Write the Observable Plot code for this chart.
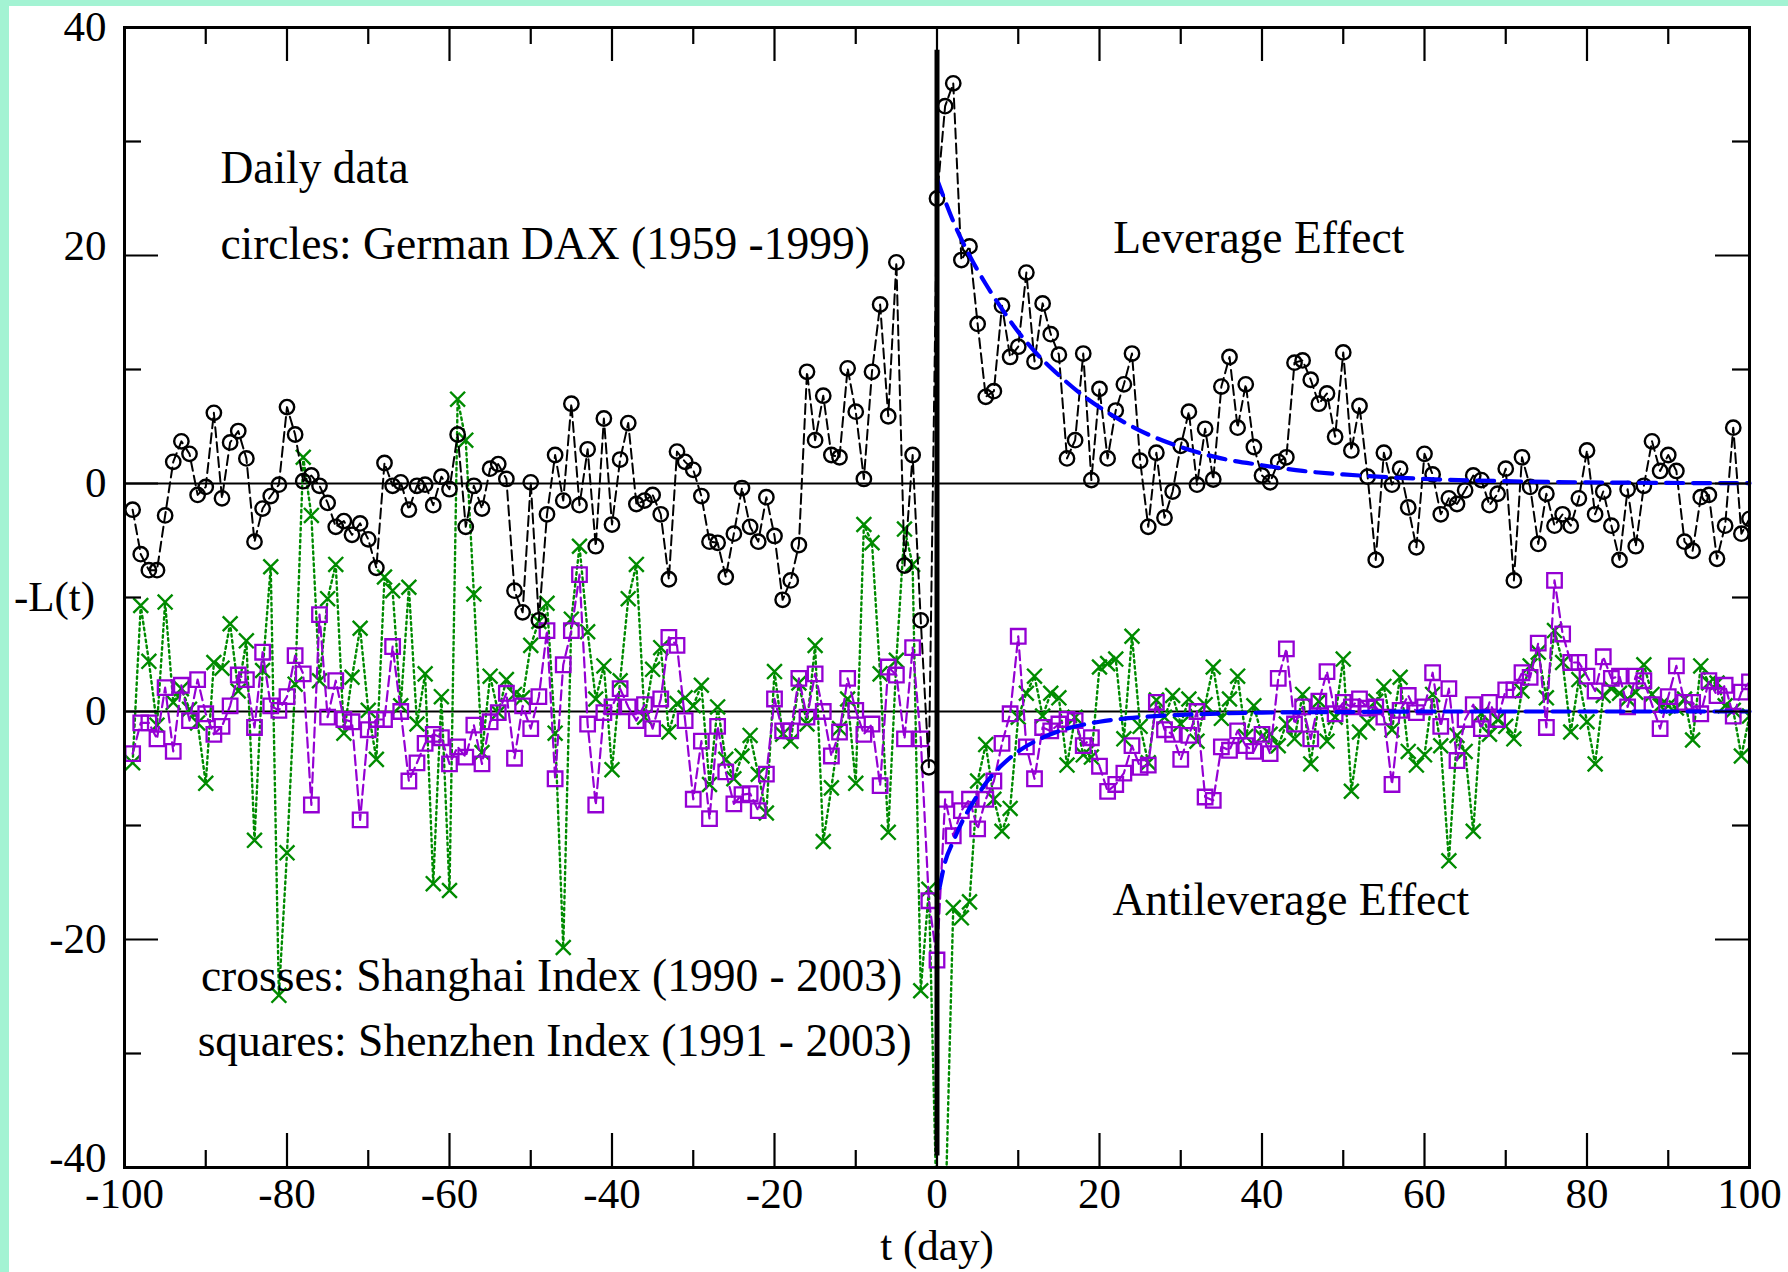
<!DOCTYPE html>
<html><head><meta charset="utf-8">
<script src="https://cdn.jsdelivr.net/npm/d3@7"></script>
<script src="https://cdn.jsdelivr.net/npm/@observablehq/plot@0.6"></script>
<style>
html,body{margin:0;padding:0;background:#fff;}
#wrap{position:relative;width:1788px;height:1272px;overflow:hidden;}
.mint{position:absolute;background:#a3f3d3;}
</style></head><body>
<div id="wrap"></div>
<script>
// ---- data (t = -99 ... 100, one value per day) ----
const days = d3.range(-99, 101);
const daxValues = [
-2.3,-6.2,-7.6,-7.6,-2.8,1.9,3.7,2.6,-1.0,-0.3,
6.2,-1.3,3.6,4.6,2.2,-5.1,-2.2,-1.1,-0.1,6.7,
4.3,0.2,0.7,-0.2,-1.7,-3.8,-3.3,-4.5,-3.5,-4.9,
-7.4,1.8,-0.2,0.1,-2.3,-0.2,-0.1,-1.9,0.6,-0.5,
4.3,-3.8,-0.2,-2.2,1.3,1.7,0.4,-9.4,-11.3,0.1,
-12.0,-2.7,2.5,-1.5,7.0,-1.9,3.0,-5.5,5.7,-3.6,
2.1,5.3,-1.8,-1.5,-1.0,-2.7,-8.4,2.8,1.9,1.2,
-1.1,-5.1,-5.2,-8.2,-4.4,-0.4,-3.8,-5.1,-1.2,-4.6,
-10.2,-8.5,-5.4,9.8,3.8,7.7,2.5,2.3,10.1,6.3,
0.4,9.8,15.7,5.9,19.4,-7.2,2.5,-12.0,-24.9,25.0,
33.1,35.1,19.6,20.8,14.0,7.6,8.1,15.6,11.1,12.0,
18.5,10.7,15.8,13.1,11.3,2.2,3.8,11.4,0.3,8.3,
2.2,6.4,8.7,11.4,2.0,-3.8,2.7,-3.0,-0.7,3.3,
6.3,-0.1,4.8,0.35,8.5,11.1,4.9,8.7,3.2,0.7,
0.1,1.9,2.3,10.6,10.8,9.1,7.0,7.9,4.1,11.5,
2.9,6.8,0.6,-6.7,2.7,-0.1,1.3,-2.1,-5.6,2.6,
0.8,-2.7,-1.3,-1.8,-0.6,0.7,0.3,-1.9,-0.9,1.3,
-8.5,2.3,-0.3,-5.3,-0.9,-3.7,-2.7,-3.7,-1.3,2.9,
-2.7,-0.7,-3.7,-6.7,-0.5,-5.5,-0.2,3.7,1.1,2.5,
1.1,-5.1,-5.9,-1.2,-1.0,-6.6,-3.7,4.9,-4.4,-3.1
];
const shanghaiValues = [
-4.5,9.3,4.4,-1.2,9.6,0.8,2.0,0.2,-1.0,-6.3,
4.3,3.8,7.7,1.8,6.2,-11.3,3.6,12.7,-24.9,-12.4,
2.4,22.3,17.2,2.7,9.9,12.9,-1.9,3.0,7.3,0.1,
-4.2,11.8,10.6,0.5,10.9,-1.1,3.3,-15.1,1.3,-15.7,
27.4,23.8,10.3,-3.6,3.1,-0.1,2.8,1.5,1.2,5.8,
7.9,9.5,-1.9,-20.7,8.1,14.5,7.0,1.1,4.0,-5.1,
2.7,9.9,12.9,-0.5,3.7,5.6,-1.8,0.7,1.2,0.5,
2.3,-6.4,0.4,-4.2,-5.9,-3.9,-2.1,-5.5,-8.9,3.5,
-2.0,-2.6,2.5,-1.1,5.8,-11.4,-6.7,-1.5,1.1,-6.3,
16.4,14.8,3.3,-10.6,4.5,16.0,12.9,-24.5,-15.6,-45,
-45,-17.2,-18.1,-16.7,-6.1,-2.9,-7.7,-10.5,-8.5,-0.5,
1.6,3.1,-0.4,1.6,1.2,-4.7,-0.5,-3.8,-4.0,3.9,
4.2,4.6,-2.4,6.6,-1.3,-4.5,1.0,-0.5,1.4,-1.1,
1.1,-2.6,0.6,3.9,-0.6,1.1,3.1,-2.2,0.5,-2.2,
-2.0,-3.0,-1.1,-2.4,1.5,-4.6,0.9,-2.6,-0.5,4.6,
-7.0,-1.8,-1.0,0.9,2.2,-1.6,3.0,-3.5,-4.7,-3.8,
1.5,-3.0,-13.1,-2.1,-3.5,-10.5,-0.2,-2.0,-0.7,-1.3,
-2.4,1.8,4.0,5.2,1.2,7.1,4.3,-1.8,2.8,-0.9,
-4.6,1.4,2.0,1.6,1.1,1.7,4.1,1.5,0.5,0.5,
0.3,1.1,-2.5,4.0,2.5,2.5,0.5,0.1,-3.9,-0.4
];
const shenzhenValues = [
-3.7,-1.0,-1.0,-2.4,2.1,-3.5,2.3,-0.8,2.8,-0.2,
-2.0,-1.3,0.5,3.2,2.8,-1.4,5.2,0.5,0.1,1.3,
4.9,3.3,-8.2,8.5,-0.5,2.7,-0.7,-0.9,-9.5,-1.6,
-0.7,-0.7,5.7,0.0,-6.1,-4.5,-2.8,-2.0,-2.3,-4.6,
-3.1,-4.0,-1.2,-4.6,-0.9,-0.1,1.6,-4.1,0.5,-1.5,
1.3,7.1,-5.9,4.1,7.1,12.0,-1.1,-8.2,-0.1,0.4,
2.0,0.4,-0.8,0.6,-1.5,1.1,6.5,5.8,-0.8,-7.7,
-2.6,-9.4,-1.3,-5.3,-8.1,-7.3,-7.2,-8.7,-5.5,1.1,
-1.7,-1.7,2.9,-0.5,3.3,0.0,-3.9,-1.8,2.9,0.1,
-2.0,-1.1,-6.5,3.9,3.2,-2.4,5.6,-2.4,-16.6,-21.8,
-7.7,-10.9,-8.7,-7.7,-10.3,-7.7,-6.1,-2.8,-0.2,6.6,
-3.1,-5.9,-1.4,-1.7,-1.1,-0.7,-0.8,-3.0,-2.3,-4.8,
-7.0,-6.4,-5.4,-3.0,-4.9,-4.7,0.8,-1.6,-2.0,-4.2,
-2.1,0.0,-7.5,-7.8,-3.1,-3.4,-1.7,-3.0,-3.5,-2.0,
-3.7,2.9,5.5,-1.1,0.4,-2.4,0.9,3.5,-0.2,0.8,
0.4,1.1,0.3,0.4,-0.5,-6.4,0.1,1.4,-0.1,0.4,
3.4,-1.3,2.0,-4.3,-0.7,0.6,-1.5,0.8,-0.7,1.9,
1.9,3.4,3.0,6.0,-1.4,11.5,6.8,4.3,4.3,3.1,
1.8,4.8,2.9,3.1,0.4,3.1,2.7,0.6,-1.5,1.3,
4.0,0.8,0.8,-0.2,2.7,1.4,2.3,-0.4,1.7,2.6
];
// fitted curves
const fitTopT = [0, 2, 4, 6, 8, 10, 12, 15, 18, 22, 26, 30, 35, 40, 45, 50, 60, 70, 80, 90, 100];
const fitTopV = [26.7, 23.0, 20.0, 17.5, 15.3, 13.3, 11.6, 9.5, 7.7, 5.8, 4.3, 3.2, 2.2, 1.6, 1.1, 0.8, 0.4, 0.2, 0.1, 0.05, 0.03];
const fitBotT = [0.3, 1, 2, 3, 4, 6, 8, 10, 13, 16, 20, 25, 30, 40, 50, 60, 80, 100];
const fitBotV = [-15.5, -13.2, -11.4, -9.8, -8.5, -6.3, -4.7, -3.5, -2.3, -1.5, -0.9, -0.5, -0.3, -0.1, -0.05, 0, 0, 0];

// axis ticks and labels
const xMajor = [-100, -80, -60, -40, -20, 0, 20, 40, 60, 80, 100];
const xMinor = [-90, -70, -50, -30, -10, 10, 30, 50, 70, 90];
const yMajor = [40, 20, 0, -20, -40, -60];
const yMinor = [30, 10, -10, -30, -50];
const yTickLabels = ["40", "20", "0", "0", "-20", "-40"];
const yLabelsRaised = [20, -60];   // these two labels sit a little above their ticks
const BOTTOM_OFFSET = -20;      // lower panel drawn 20 units below the upper one
const zeroLines = [0, BOTTOM_OFFSET];
const yLabelText = "-L(t)";
const yLabelPos = -10;
const xLabelText = "t (day)";
const vLine = {x: 0, y1: 38, y2: -59};
const annotations = [
  {x: -88.2, y: 27.6, text: "Daily data"},
  {x: -88.2, y: 21.0, text: "circles: German DAX (1959 -1999)"},
  {x: 21.7, y: 21.5, text: "Leverage Effect"},
  {x: 21.6, y: -36.6, text: "Antileverage Effect"},
  {x: -90.6, y: -43.2, text: "crosses: Shanghai Index (1990 - 2003)"},
  {x: -91.0, y: -48.9, text: "squares: Shenzhen Index (1991 - 2003)"}
];

// ---- build tables ----
const dax = days.map((t, i) => ({t, v: daxValues[i]}));
const shanghai = days.map((t, i) => ({t, v: shanghaiValues[i] + BOTTOM_OFFSET}));
const shenzhen = days.map((t, i) => ({t, v: shenzhenValues[i] + BOTTOM_OFFSET}));
const fitTop = fitTopT.map((t, i) => ({t, v: fitTopV[i]}));
const fitBot = fitBotT.map((t, i) => ({t, v: fitBotV[i] + BOTTOM_OFFSET}));
const yLabelMap = new Map(yMajor.map((d, i) => [d, yTickLabels[i]]));
const yPlain = yMajor.filter(d => !yLabelsRaised.includes(d));

const W = 1788, H = 1272, mL = 124, mR = 39, mT = 27, mB = 105;
const plotW = W - mL - mR, plotH = H - mT - mB;
const LONG = 34, SHORT = 17;
const GREEN = "rgb(0,139,0)", PURPLE = "rgb(148,0,211)", BLUE = "rgb(0,0,255)";
const FS = 43;

const chart = Plot.plot({
  width: W, height: H,
  marginLeft: mL, marginRight: mR, marginTop: mT, marginBottom: mB,
  x: {domain: [-100, 100]},
  y: {domain: [-60, 40]},
  style: {fontFamily: "'Liberation Serif', 'Times New Roman', serif", background: "white", color: "black"},
  marks: [
    Plot.ruleY(zeroLines, {stroke: "black", strokeWidth: 2}),
    // Shanghai: green crosses, dotted
    Plot.line(shanghai, {x: "t", y: "v", stroke: GREEN, strokeWidth: 2.4, strokeDasharray: "2.5,3.5", clip: true}),
    Plot.dot(shanghai, {x: "t", y: "v", symbol: "times", r: 6.8, stroke: GREEN, strokeWidth: 2.4, clip: true}),
    // Shenzhen: purple squares, dashed
    Plot.line(shenzhen, {x: "t", y: "v", stroke: PURPLE, strokeWidth: 2.2, strokeDasharray: "10,5", clip: true}),
    Plot.dot(shenzhen, {x: "t", y: "v", symbol: "square", r: 8.2, fill: "none", stroke: PURPLE, strokeWidth: 2.3, clip: true}),
    // DAX: black circles, dashed
    Plot.line(dax, {x: "t", y: "v", stroke: "black", strokeWidth: 2, strokeDasharray: "10,5", clip: true}),
    Plot.dot(dax, {x: "t", y: "v", symbol: "circle", r: 7.2, fill: "none", stroke: "black", strokeWidth: 2.4, clip: true}),
    // fits
    Plot.line(fitTop, {x: "t", y: "v", stroke: BLUE, strokeWidth: 4.2, strokeDasharray: "17,10", curve: "monotone-x"}),
    Plot.line(fitBot, {x: "t", y: "v", stroke: BLUE, strokeWidth: 4.2, strokeDasharray: "17,10", curve: "monotone-x"}),
    // vertical line at t = 0
    Plot.ruleX([vLine], {x: "x", y1: "y1", y2: "y2", stroke: "black", strokeWidth: 5}),
    // inward ticks on all four sides
    Plot.tickY(yMajor, {y: d => d, insetRight: plotW - LONG, stroke: "black", strokeWidth: 2.2}),
    Plot.tickY(yMinor, {y: d => d, insetRight: plotW - SHORT, stroke: "black", strokeWidth: 2.2}),
    Plot.tickY(yMajor, {y: d => d, insetLeft: plotW - LONG, stroke: "black", strokeWidth: 2.2}),
    Plot.tickY(yMinor, {y: d => d, insetLeft: plotW - SHORT, stroke: "black", strokeWidth: 2.2}),
    Plot.tickX(xMajor, {x: d => d, insetBottom: plotH - LONG, stroke: "black", strokeWidth: 2.2}),
    Plot.tickX(xMinor, {x: d => d, insetBottom: plotH - SHORT, stroke: "black", strokeWidth: 2.2}),
    Plot.tickX(xMajor, {x: d => d, insetTop: plotH - LONG, stroke: "black", strokeWidth: 2.2}),
    Plot.tickX(xMinor, {x: d => d, insetTop: plotH - SHORT, stroke: "black", strokeWidth: 2.2}),
    Plot.frame({stroke: "black", strokeWidth: 3}),
    // axes labels
    Plot.axisY(yPlain, {tickSize: 0, tickPadding: 18, fontSize: FS, label: null, tickFormat: d => yLabelMap.get(d)}),
    Plot.axisY(yLabelsRaised, {tickSize: 0, tickPadding: 18, dy: -9, fontSize: FS, label: null, tickFormat: d => yLabelMap.get(d)}),
    Plot.axisX(xMajor, {tickSize: 0, tickPadding: 10, fontSize: FS, label: null, tickFormat: d => String(d)}),
    Plot.text([yLabelText], {frameAnchor: "left", y: () => yLabelPos, text: d => d, dx: -70, textAnchor: "middle", fontSize: FS}),
    Plot.text([xLabelText], {frameAnchor: "bottom", text: d => d, dy: 79, lineAnchor: "middle", fontSize: FS}),
    // annotations
    Plot.text(annotations, {x: "x", y: "y", text: "text", textAnchor: "start", lineAnchor: "middle", fontSize: 45.5})
  ]
});
const wrap = document.getElementById("wrap");
wrap.appendChild(chart);
const left = document.createElement("div"); left.className = "mint";
Object.assign(left.style, {left: "0px", top: "0px", width: "9px", height: "1272px"});
const top_ = document.createElement("div"); top_.className = "mint";
Object.assign(top_.style, {left: "0px", top: "0px", width: "1788px", height: "6px"});
wrap.appendChild(left); wrap.appendChild(top_);
</script></body></html>
